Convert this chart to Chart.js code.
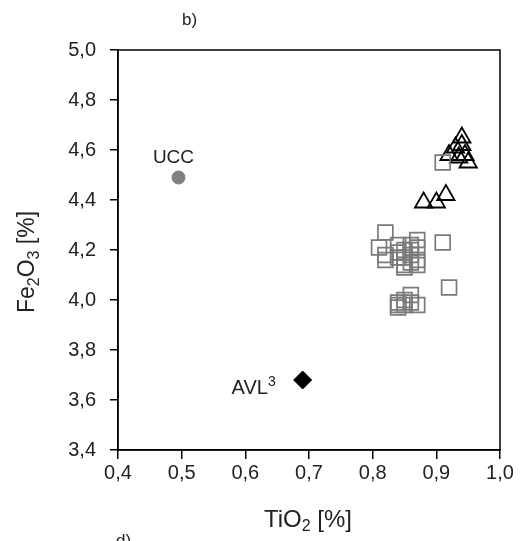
<!DOCTYPE html>
<html>
<head>
<meta charset="utf-8">
<script src="https://cdn.jsdelivr.net/npm/chart.js@4"></script>
<style>
  html, body { margin: 0; padding: 0; background: #fff; }
  #wrap { width: 522px; height: 541px; }
</style>
</head>
<body>
<div id="wrap"><canvas id="chart" width="522" height="541"></canvas></div>
<script>
// data
const squareX = [0.82, 0.91, 0.81, 0.82, 0.82, 0.84, 0.85, 0.86, 0.87, 0.87, 0.86, 0.85, 0.84, 0.87, 0.87, 0.85, 0.84, 0.86, 0.86, 0.85, 0.92, 0.86, 0.84, 0.84, 0.85, 0.85, 0.86, 0.87, 0.84, 0.91];
const squareY = [4.27, 4.23, 4.21, 4.18, 4.16, 4.22, 4.20, 4.22, 4.24, 4.21, 4.18, 4.17, 4.17, 4.16, 4.14, 4.14, 4.19, 4.15, 4.20, 4.13, 4.05, 4.02, 3.99, 3.98, 3.98, 4.00, 3.99, 3.98, 3.97, 4.55];
const triangleX = [0.94, 0.93, 0.92, 0.945, 0.935, 0.95, 0.94, 0.88, 0.90, 0.915];
const triangleY = [4.65, 4.61, 4.58, 4.58, 4.57, 4.55, 4.62, 4.39, 4.39, 4.42];
const uccPoint = [0.495, 4.49];
const avlPoint = [0.69, 3.68];
const xTicks = [0.4, 0.5, 0.6, 0.7, 0.8, 0.9, 1.0];
const yTicks = [3.4, 3.6, 3.8, 4.0, 4.2, 4.4, 4.6, 4.8, 5.0];

const FONT = 'Liberation Sans, Arial, sans-serif';
const toPts = (xs, ys) => xs.map((x, i) => ({ x: x, y: ys[i] }));
const comma = v => Number(v).toFixed(1).replace('.', ',');

// text with subscripts/superscripts: parts = [[text, 'n'|'sub'|'sup'], ...]
function drawRich(ctx, parts, size) {
    ctx.textAlign = 'left';
    let total = 0;
    parts.forEach(p => {
        ctx.font = (p[1] === 'n' ? size : Math.round(size * 0.68)) + 'px ' + FONT;
        total += ctx.measureText(p[0]).width;
    });
    let x = -total / 2;
    parts.forEach(p => {
        const s = p[1] === 'n' ? size : Math.round(size * 0.68);
        ctx.font = s + 'px ' + FONT;
        const dy = p[1] === 'sub' ? size * 0.28 : (p[1] === 'sup' ? -size * 0.3 : 0);
        ctx.fillText(p[0], x, dy);
        x += ctx.measureText(p[0]).width;
    });
}

const extras = {
    id: 'extras',
    afterDraw(chart) {
        const { ctx, chartArea: a, scales } = chart;
        ctx.save();
        ctx.strokeStyle = '#000';
        ctx.lineWidth = 1.5;
        ctx.strokeRect(a.left, a.top, a.right - a.left, a.bottom - a.top);
        ctx.fillStyle = '#222';
        ctx.textBaseline = 'middle';
        // axis titles
        ctx.save();
        ctx.translate(308, 520);
        drawRich(ctx, [['TiO', 'n'], ['2', 'sub'], [' [%]', 'n']], 24);
        ctx.restore();
        ctx.save();
        ctx.translate(28, 262);
        ctx.rotate(-Math.PI / 2);
        drawRich(ctx, [['Fe', 'n'], ['2', 'sub'], ['O', 'n'], ['3', 'sub'], [' [%]', 'n']], 23);
        ctx.restore();
        // panel letters
        ctx.textAlign = 'left';
        ctx.font = '17px ' + FONT;
        ctx.fillText('b)', 182, 20);
        ctx.fillText('d)', 116, 541);
        // point labels
        ctx.save();
        ctx.translate(scales.x.getPixelForValue(uccPoint[0]) - 5, scales.y.getPixelForValue(uccPoint[1]) - 20);
        drawRich(ctx, [['UCC', 'n']], 19);
        ctx.restore();
        ctx.save();
        ctx.translate(scales.x.getPixelForValue(avlPoint[0]) - 49, scales.y.getPixelForValue(avlPoint[1]) + 8);
        drawRich(ctx, [['AVL', 'n'], ['3', 'sup']], 20);
        ctx.restore();
        ctx.restore();
    }
};

new Chart(document.getElementById('chart'), {
    type: 'scatter',
    data: {
        datasets: [
            { label: 'squares', data: toPts(squareX, squareY), pointStyle: 'rect', pointRadius: 10.5,
              borderColor: '#7a7a7a', backgroundColor: 'rgba(0,0,0,0)', borderWidth: 1.7 },
            { label: 'triangles', data: toPts(triangleX, triangleY), pointStyle: 'triangle', pointRadius: 10,
              borderColor: '#000', backgroundColor: 'rgba(0,0,0,0)', borderWidth: 1.8 },
            { label: 'UCC', data: [{ x: uccPoint[0], y: uccPoint[1] }], pointStyle: 'circle', pointRadius: 6.5,
              borderColor: '#808080', backgroundColor: '#808080' },
            { label: 'AVL3', data: [{ x: avlPoint[0], y: avlPoint[1] }], pointStyle: 'rectRot', pointRadius: 9,
              borderColor: '#000', backgroundColor: '#000' }
        ]
    },
    options: {
        responsive: false,
        animation: false,
        layout: { padding: { top: 50, right: 22, left: 0, bottom: 0 } },
        plugins: { legend: { display: false }, tooltip: { enabled: false } },
        scales: {
            x: {
                type: 'linear', min: 0.4, max: 1.0,
                afterFit: s => { s.height = 91; },
                afterBuildTicks: s => { s.ticks = xTicks.map(v => ({ value: v })); },
                grid: { drawOnChartArea: false, color: '#000', tickLength: 9, lineWidth: 1.5 },
                border: { color: '#000', width: 1.5 },
                ticks: { color: '#222', font: { family: FONT, size: 20 }, padding: 2, callback: comma }
            },
            y: {
                type: 'linear', min: 3.4, max: 5.0,
                afterFit: s => { s.width = 118; },
                afterBuildTicks: s => { s.ticks = yTicks.map(v => ({ value: v })); },
                grid: { drawOnChartArea: false, color: '#000', tickLength: 8, lineWidth: 1.5 },
                border: { color: '#000', width: 1.5 },
                ticks: { color: '#222', font: { family: FONT, size: 20 }, padding: 14, callback: comma }
            }
        }
    },
    plugins: [extras]
});
</script>
</body>
</html>
